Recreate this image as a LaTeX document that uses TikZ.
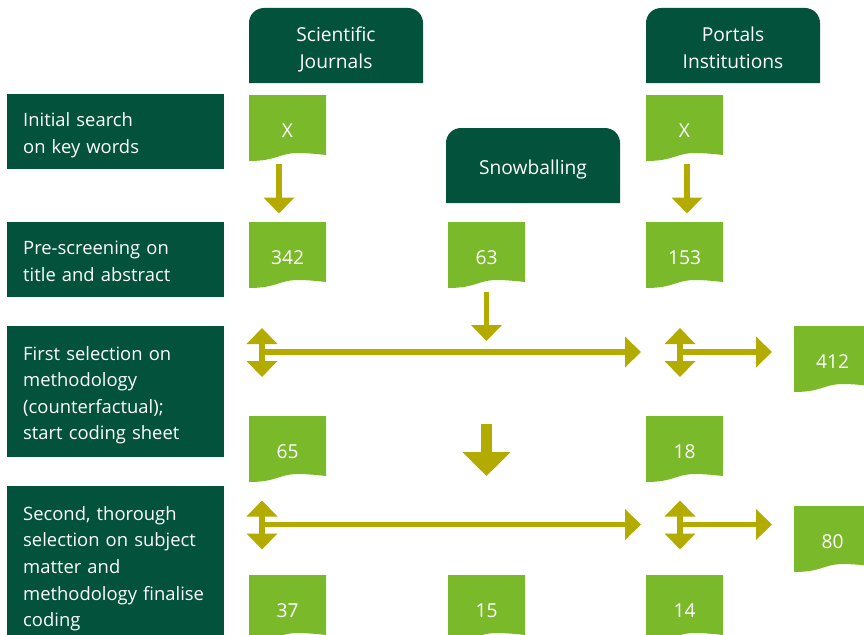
\documentclass[tikz,border=0pt]{standalone}
\usepackage{fontspec}
\setmainfont{Open Sans}
\usetikzlibrary{arrows.meta}
\definecolor{wurdark}{HTML}{03523B}
\definecolor{wurleaf}{HTML}{7AB929}
\definecolor{wurolive}{HTML}{B4AB00}
\tikzset{
  bodyfont/.style={font=\fontsize{18.4}{26.6}\selectfont},
  bigfont/.style={font=\fontsize{19.2}{27}\selectfont},
  stepbox/.style={bodyfont, fill=wurdark, text=white, anchor=north west,
    text width=185pt, inner xsep=16pt, inner ysep=0pt, align=left,
    execute at begin node={\rule{0pt}{24.6pt}},
    execute at end node={\rule[-8pt]{0pt}{8pt}}},
  headtext/.style={bigfont, text=white, align=center, inner sep=0pt,
    execute at end node={\rule[-8pt]{0pt}{8pt}}},
  doctext/.style={bigfont, text=white, inner sep=0pt},
  flow/.style={wurolive, line width=5.5pt, -{Triangle[width=30pt,length=16pt]}},
  twoway/.style={wurolive, line width=5.5pt,
    {Triangle[width=30pt,length=16pt]}-{Triangle[width=30pt,length=16pt]}},
  bigflow/.style={wurolive, line width=10.5pt, -{Triangle[width=47pt,length=24pt]}},
}
% source header: name, left, top, text
\newcommand\headbox[4]{%
  \fill[wurdark] (#2,#3+75) -- (#2,#3+15) arc(180:270:15) -- (#2+159,#3)
    arc(270:360:15) -- (#2+174,#3+75) -- cycle;
  \node[headtext] (#1) at (#2+87,#3+43.5) {#4};
}
% document sheet: name, left, top, text
\newcommand\docbox[4]{%
  \fill[wurleaf] (#2,#3) -- (#2+77,#3) -- (#2+77,#3+60)
    .. controls (#2+68,#3+59) and (#2+58,#3+58) .. (#2+49,#3+58)
    .. controls (#2+30,#3+58) and (#2+28,#3+66) .. (#2,#3+66) -- cycle;
  \node[doctext] (#1) at (#2+38.5,#3+36) {#4};
}
\begin{document}
\begin{tikzpicture}[x=1pt,y=-1pt]
\useasboundingbox (0,0) rectangle (864,634);
% steps
\node[stepbox, minimum height=75pt] (stepsearch) at (7,94) {Initial search\\on key words};
\node[stepbox, minimum height=75pt] (stepscreen) at (7,222) {Pre-screening on\\title and abstract};
\node[stepbox, minimum height=131pt] (stepfirst) at (7,326) {First selection on\\methodology\\(counterfactual);\\start coding sheet};
\node[stepbox, minimum height=158pt] (stepsecond) at (7,486) {Second, thorough\\selection on subject\\matter and\\methodology finalise\\coding};
% sources
\headbox{srcjour}{249}{8}{Scientific\\Journals}
\headbox{srcport}{646}{8}{Portals\\Institutions}
\headbox{srcsnow}{446}{128}{Snowballing}
% counts
\docbox{jsearch}{249}{95}{X}
\docbox{psearch}{646}{95}{X}
\docbox{jscreen}{249}{222}{342}
\docbox{sscreen}{448}{222}{63}
\docbox{pscreen}{646}{222}{153}
\docbox{outfirst}{794}{326}{412}
\docbox{jfirst}{249}{416}{65}
\docbox{pfirst}{646}{416}{18}
\docbox{outsecond}{794}{506}{80}
\docbox{jsecond}{249}{575}{37}
\docbox{ssecond}{448}{575}{15}
\docbox{psecond}{646}{575}{14}
% forks
\coordinate (jfork1) at (262,352);
\coordinate (pfork1) at (680,352);
\coordinate (pend1) at (772,352);
\coordinate (sjoin) at (486.5,352);
\coordinate (jfork2) at (262,524.5);
\coordinate (pfork2) at (680,524.5);
\coordinate (pend2) at (772,524.5);
% arrows
\draw[flow, shorten <=33pt, shorten >=44.5pt] ([xshift=-8.5pt]jsearch.center) -- ([xshift=-8.5pt]jscreen.center);
\draw[flow, shorten <=33pt, shorten >=44.5pt] ([xshift=2.5pt]psearch.center) -- ([xshift=2.5pt]pscreen.center);
\draw[flow, shorten <=33.5pt, shorten >=11pt] (sscreen.center) -- (sjoin);
\draw[bigflow, shorten <=72pt, shorten >=135pt] (sjoin) -- (ssecond.center);
\draw[twoway] ([yshift=24pt]jfork1) -- ([yshift=-25pt]jfork1);
\draw[flow, shorten >=39pt] (jfork1) -- (pfork1);
\draw[twoway] ([yshift=24pt]pfork1) -- ([yshift=-25pt]pfork1);
\draw[flow] (pfork1) -- (pend1);
\draw[twoway] ([yshift=24pt]jfork2) -- ([yshift=-25pt]jfork2);
\draw[flow, shorten >=39pt] (jfork2) -- (pfork2);
\draw[twoway] ([yshift=24pt]pfork2) -- ([yshift=-25pt]pfork2);
\draw[flow] (pfork2) -- (pend2);
\end{tikzpicture}
\end{document}
